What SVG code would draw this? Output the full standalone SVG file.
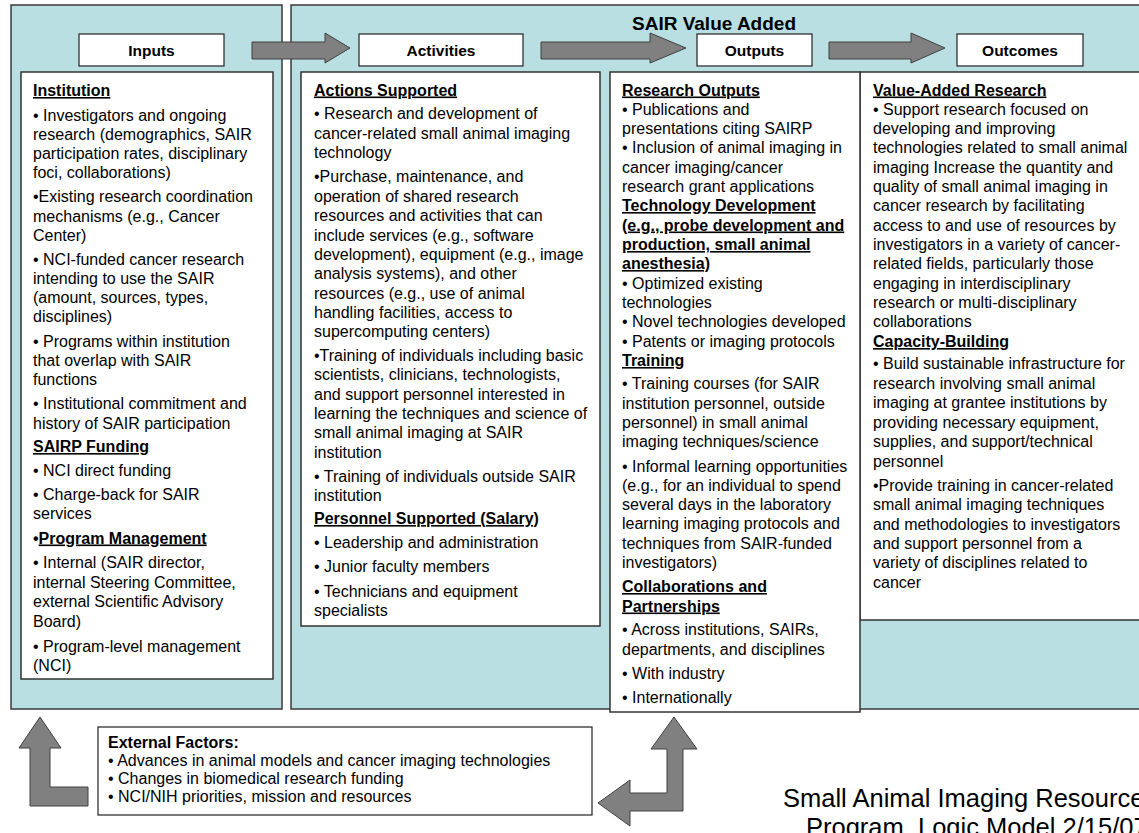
<svg xmlns="http://www.w3.org/2000/svg" width="1139" height="833" viewBox="0 0 1139 833">
<style>
.panel{fill:#BADFE2;stroke:#3a3a3a;stroke-width:1.5}
.box{fill:#ffffff;stroke:#333333;stroke-width:1.5}
.hbox{fill:#ffffff;stroke:#222222;stroke-width:1.2}
.arr{fill:#808080;stroke:#404040;stroke-width:1}
text{font-family:"Liberation Sans",Arial,sans-serif;fill:#000}
.t{font-size:16px}
.h{font-size:16px;font-weight:bold;text-decoration:underline}
.lbl{font-size:15.5px;font-weight:bold;text-anchor:middle}
.ext{font-size:16px}
.ttl{font-size:25.5px}
</style>
<rect width="1139" height="833" fill="#ffffff"/>
<g id="panel-inputs"><rect class="panel" x="11" y="5" width="271" height="704"/></g>
<g id="panel-value-added"><rect class="panel" x="291" y="5" width="860" height="704"/>
<text x="714" y="30" style="font-size:19px;font-weight:bold" text-anchor="middle">SAIR Value Added</text></g>

<g id="connectors">
<polygon class="arr" points="252,42 325,42 325,33 350,48 325,63 325,59 252,59"/>
<polygon class="arr" points="541,42 650,42 650,33 686,48 650,63 650,59 541,59"/>
<polygon class="arr" points="829,42 911,42 911,33 945,48 911,63 911,59 829,59"/>
<polygon class="arr" points="40,717 61,748 50,748 50,787 88,787 88,806 30,806 30,748 19,748"/>
<polygon class="arr" points="674,717 697,749 683,749 683,811 630,811 630,826 598,803 630,780 630,793 667,793 667,749 651,749"/>
</g>

<g id="hdr-inputs"><rect class="hbox" x="79" y="34" width="145" height="32"/><text class="lbl" x="151.5" y="55.5">Inputs</text></g>
<g id="hdr-activities"><rect class="hbox" x="359" y="34" width="164" height="32"/><text class="lbl" x="441" y="55.5">Activities</text></g>
<g id="hdr-outputs"><rect class="hbox" x="697" y="34" width="115" height="32"/><text class="lbl" x="754.5" y="55.5">Outputs</text></g>
<g id="hdr-outcomes"><rect class="hbox" x="957" y="34" width="126" height="32"/><text class="lbl" x="1020" y="55.5">Outcomes</text></g>

<g id="inputs">
<rect class="box" x="21" y="72" width="252" height="607"/>
<text class="h" x="33" y="96">Institution</text>
<text class="t" x="33" y="120.5">• Investigators and ongoing</text>
<text class="t" x="33" y="139.5">research (demographics, SAIR</text>
<text class="t" x="33" y="159">participation rates, disciplinary</text>
<text class="t" x="33" y="178">foci, collaborations)</text>
<text class="t" x="33" y="202">•Existing research coordination</text>
<text class="t" x="33" y="221.5">mechanisms (e.g., Cancer</text>
<text class="t" x="33" y="240.5">Center)</text>
<text class="t" x="33" y="265">• NCI-funded cancer research</text>
<text class="t" x="33" y="284">intending to use the SAIR</text>
<text class="t" x="33" y="303">(amount, sources, types,</text>
<text class="t" x="33" y="322">disciplines)</text>
<text class="t" x="33" y="346.5">• Programs within institution</text>
<text class="t" x="33" y="366">that overlap with SAIR</text>
<text class="t" x="33" y="385">functions</text>
<text class="t" x="33" y="409">• Institutional commitment and</text>
<text class="t" x="33" y="429">history of SAIR participation</text>
<text class="h" x="33" y="452">SAIRP Funding</text>
<text class="t" x="33" y="476">• NCI direct funding</text>
<text class="t" x="33" y="500">• Charge-back for SAIR</text>
<text class="t" x="33" y="519">services</text>
<text class="t" x="33" y="543.5" style="font-weight:bold">•<tspan style="text-decoration:underline">Program Management</tspan></text>
<text class="t" x="33" y="568">• Internal (SAIR director,</text>
<text class="t" x="33" y="587.5">internal Steering Committee,</text>
<text class="t" x="33" y="607">external Scientific Advisory</text>
<text class="t" x="33" y="627">Board)</text>
<text class="t" x="33" y="652">• Program-level management</text>
<text class="t" x="33" y="671">(NCI)</text>
</g>

<g id="activities">
<rect class="box" x="301" y="72" width="299" height="554"/>
<text class="h" x="314" y="95.5">Actions Supported</text>
<text class="t" x="314" y="118.5">• Research and development of</text>
<text class="t" x="314" y="138.5">cancer-related small animal imaging</text>
<text class="t" x="314" y="158">technology</text>
<text class="t" x="314" y="182">•Purchase, maintenance, and</text>
<text class="t" x="314" y="201.5">operation of shared research</text>
<text class="t" x="314" y="221">resources and activities that can</text>
<text class="t" x="314" y="240.5">include services (e.g., software</text>
<text class="t" x="314" y="259.5">development), equipment (e.g., image</text>
<text class="t" x="314" y="279">analysis systems), and other</text>
<text class="t" x="314" y="298.5">resources (e.g., use of animal</text>
<text class="t" x="314" y="317.5">handling facilities, access to</text>
<text class="t" x="314" y="337">supercomputing centers)</text>
<text class="t" x="314" y="361">•Training of individuals including basic</text>
<text class="t" x="314" y="380">scientists, clinicians, technologists,</text>
<text class="t" x="314" y="399.5">and support personnel interested in</text>
<text class="t" x="314" y="419">learning the techniques and science of</text>
<text class="t" x="314" y="438">small animal imaging at SAIR</text>
<text class="t" x="314" y="457.5">institution</text>
<text class="t" x="314" y="481.5">• Training of individuals outside SAIR</text>
<text class="t" x="314" y="501">institution</text>
<text class="h" x="314" y="524">Personnel Supported (Salary)</text>
<text class="t" x="314" y="548">• Leadership and administration</text>
<text class="t" x="314" y="572">• Junior faculty members</text>
<text class="t" x="314" y="596.5">• Technicians and equipment</text>
<text class="t" x="314" y="616">specialists</text>
</g>

<g id="outcomes">
<rect class="box" x="860" y="72" width="290" height="548"/>
<text class="h" x="873" y="95.5">Value-Added Research</text>
<text class="t" x="873" y="114.5">• Support research focused on</text>
<text class="t" x="873" y="134">developing and improving</text>
<text class="t" x="873" y="153">technologies related to small animal</text>
<text class="t" x="873" y="172.5">imaging Increase the quantity and</text>
<text class="t" x="873" y="192">quality of small animal imaging in</text>
<text class="t" x="873" y="211">cancer research by facilitating</text>
<text class="t" x="873" y="230.5">access to and use of resources by</text>
<text class="t" x="873" y="250">investigators in a variety of cancer-</text>
<text class="t" x="873" y="269">related fields, particularly those</text>
<text class="t" x="873" y="288.5">engaging in interdisciplinary</text>
<text class="t" x="873" y="308">research or multi-disciplinary</text>
<text class="t" x="873" y="327">collaborations</text>
<text class="h" x="873" y="347">Capacity-Building</text>
<text class="t" x="873" y="369">• Build sustainable infrastructure for</text>
<text class="t" x="873" y="388.5">research involving small animal</text>
<text class="t" x="873" y="408">imaging at grantee institutions by</text>
<text class="t" x="873" y="427.5">providing necessary equipment,</text>
<text class="t" x="873" y="447">supplies, and support/technical</text>
<text class="t" x="873" y="466.5">personnel</text>
<text class="t" x="873" y="490.5">•Provide training in cancer-related</text>
<text class="t" x="873" y="510">small animal imaging techniques</text>
<text class="t" x="873" y="529.5">and methodologies to investigators</text>
<text class="t" x="873" y="549">and support personnel from a</text>
<text class="t" x="873" y="568">variety of disciplines related to</text>
<text class="t" x="873" y="587.5">cancer</text>
</g>

<g id="outputs">
<rect class="box" x="610" y="72" width="250" height="640"/>
<text class="h" x="622" y="95.5">Research Outputs</text>
<text class="t" x="622" y="114.5">• Publications and</text>
<text class="t" x="622" y="134">presentations citing SAIRP</text>
<text class="t" x="622" y="153">• Inclusion of animal imaging in</text>
<text class="t" x="622" y="172.5">cancer imaging/cancer</text>
<text class="t" x="622" y="192">research grant applications</text>
<text class="h" x="622" y="211">Technology Development</text>
<text class="h" x="622" y="230.5">(e.g., probe development and</text>
<text class="h" x="622" y="250">production, small animal</text>
<text class="h" x="622" y="269">anesthesia)</text>
<text class="t" x="622" y="288.5">• Optimized existing</text>
<text class="t" x="622" y="308">technologies</text>
<text class="t" x="622" y="327">• Novel technologies developed</text>
<text class="t" x="622" y="346.5">• Patents or imaging protocols</text>
<text class="h" x="622" y="366">Training</text>
<text class="t" x="622" y="389">• Training courses (for SAIR</text>
<text class="t" x="622" y="408.5">institution personnel, outside</text>
<text class="t" x="622" y="428">personnel) in small animal</text>
<text class="t" x="622" y="447">imaging techniques/science</text>
<text class="t" x="622" y="471.5">• Informal learning opportunities</text>
<text class="t" x="622" y="490.5">(e.g., for an individual to spend</text>
<text class="t" x="622" y="510">several days in the laboratory</text>
<text class="t" x="622" y="529">learning imaging protocols and</text>
<text class="t" x="622" y="548.5">techniques from SAIR-funded</text>
<text class="t" x="622" y="568">investigators)</text>
<text class="h" x="622" y="592">Collaborations and</text>
<text class="h" x="622" y="611.5">Partnerships</text>
<text class="t" x="622" y="635">• Across institutions, SAIRs,</text>
<text class="t" x="622" y="654.5">departments, and disciplines</text>
<text class="t" x="622" y="678.5">• With industry</text>
<text class="t" x="622" y="703">• Internationally</text>
</g>

<g id="external-factors">
<rect class="hbox" x="98" y="727" width="494" height="88"/>
<text class="ext" x="108" y="748" style="font-weight:bold">External Factors:</text>
<text class="ext" x="108" y="766">• Advances in animal models and cancer imaging technologies</text>
<text class="ext" x="108" y="784">• Changes in biomedical research funding</text>
<text class="ext" x="108" y="802">• NCI/NIH priorities, mission and resources</text>
</g>

<g id="title">
<text class="ttl" x="783" y="807">Small Animal Imaging Resource</text>
<text class="ttl" x="806" y="836">Program, Logic Model 2/15/07</text>
</g>
</svg>
